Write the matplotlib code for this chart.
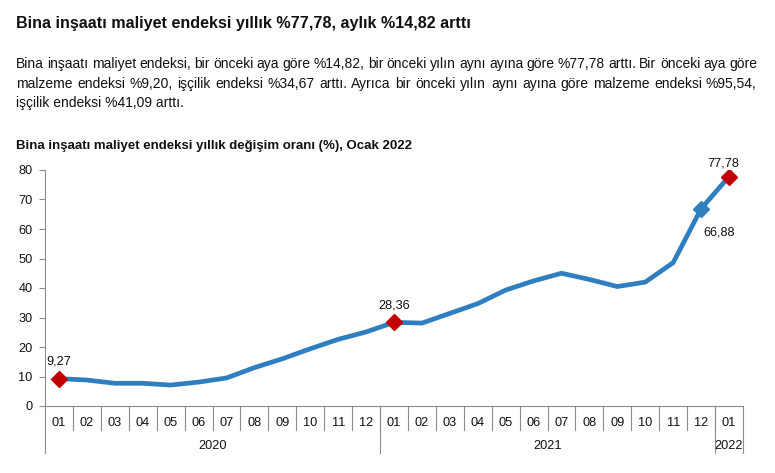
import matplotlib
matplotlib.use("Agg")
import matplotlib.pyplot as plt
import numpy as np

plt.rcParams['font.family'] = ['Liberation Sans', 'DejaVu Sans']

# data
months = ['01', '02', '03', '04', '05', '06', '07', '08', '09', '10', '11', '12',
          '01', '02', '03', '04', '05', '06', '07', '08', '09', '10', '11', '12',
          '01']
years = ['2020', '2021', '2022']
year_len = [12, 12, 1]
values = [9.27, 8.8, 7.7, 7.7, 7.1, 8.1, 9.5, 13.0, 16.0, 19.4, 22.6, 25.1,
          28.36, 28.1, 31.4, 34.7, 39.3, 42.4, 45.0, 42.9, 40.5, 42.0, 48.6, 66.88,
          77.78]
red_idx = [0, 12, 24]
blue_idx = [23]

title = "Bina inşaatı maliyet endeksi yıllık %77,78, aylık %14,82 arttı"
para = [
    "Bina inşaatı maliyet endeksi, bir önceki aya göre %14,82, bir önceki yılın aynı ayına göre %77,78 arttı. Bir önceki aya göre",
    "malzeme endeksi %9,20, işçilik endeksi %34,67 arttı. Ayrıca bir önceki yılın aynı ayına göre malzeme endeksi %95,54,",
    "işçilik endeksi %41,09 arttı.",
]
chart_title = "Bina inşaatı maliyet endeksi yıllık değişim oranı (%), Ocak 2022"

W, H = 775, 473
LINE = '#2F7EC0'
RED = '#C00000'
GRAY = '#8C8C8C'
TXT = '#111111'
LEFT = 16

fig = plt.figure(figsize=(W / 100, H / 100), dpi=100)


def fx(px):
    return px / W


def fy(py):
    return 1 - py / H


fig.text(fx(LEFT), fy(28), title, fontsize=11.6, fontweight='bold', color=TXT, va='baseline')

# justified paragraph (word by word, whole-pixel baselines to avoid jitter)
fig.canvas.draw()
renderer = fig.canvas.get_renderer()
baselines = [68, 88, 107]
for i, line in enumerate(para):
    if i == len(para) - 1:
        fig.text(fx(LEFT), fy(baselines[i]), line, fontsize=10, color=TXT, va='baseline')
        continue
    words = line.split(' ')
    objs = [fig.text(0, fy(baselines[i]), w, fontsize=10, color=TXT, va='baseline') for w in words]
    widths = [o.get_window_extent(renderer).width for o in objs]
    gap = (757 - LEFT - sum(widths)) / (len(words) - 1)
    x = LEFT
    for o, w in zip(objs, widths):
        o.set_x(fx(round(x)))
        x += w + gap

fig.text(fx(LEFT), fy(149), chart_title, fontsize=9.5, fontweight='bold', color=TXT, va='baseline')

ax = fig.add_axes([fx(45), fy(406), fx(743 - 45), (406 - 170) / H])
x = np.arange(len(values))
ax.plot(x, values, color=LINE, linewidth=3.4, solid_capstyle='round', zorder=2)
ax.plot(x[red_idx], np.array(values)[red_idx], 'D', color=RED, markersize=8, zorder=3)
ax.plot(x[blue_idx], np.array(values)[blue_idx], 'D', color=LINE, markersize=8, zorder=3)

for i in red_idx:
    dx, dy = (-4, 5) if i == red_idx[-1] else (0, 8)
    ax.annotate(f"{values[i]:.2f}".replace('.', ','), (x[i], values[i]),
                xytext=(dx, dy), textcoords='offset points', ha='center', va='bottom',
                fontsize=9.2, color=TXT)
for i in blue_idx:
    ax.annotate(f"{values[i]:.2f}".replace('.', ','), (x[i], values[i]),
                xytext=(13, -13), textcoords='offset points', ha='center', va='top',
                fontsize=9.2, color=TXT)

ax.set_xlim(-0.5, len(values) - 0.5)
ax.set_ylim(0, 80)
ax.set_yticks(range(0, 81, 10))
ax.tick_params(axis='y', length=4, color=GRAY, labelsize=9.2, labelcolor=TXT, pad=5)
ax.set_xticks([])
for s in ['top', 'right']:
    ax.spines[s].set_visible(False)
ax.spines['left'].set_color(GRAY)
ax.spines['bottom'].set_color(GRAY)

# category axis: months, separators, years
trans = ax.get_xaxis_transform()
ah = 406 - 170
for i, m in enumerate(months):
    ax.text(i, -17 / ah, m, transform=trans, ha='center', va='center', fontsize=9.2, color=TXT)
for b in np.arange(0.5, len(values) - 1, 1):
    ax.plot([b, b], [0, -24 / ah], transform=trans, color=GRAY, linewidth=0.8, clip_on=False)
start = -0.5
bounds = [start]
for y, n in zip(years, year_len):
    end = start + n
    ax.text((start + end) / 2, -40 / ah, y, transform=trans, ha='center', va='center',
            fontsize=9.2, color=TXT)
    bounds.append(end)
    start = end
for b in bounds:
    ax.plot([b, b], [0, -47 / ah], transform=trans, color=GRAY, linewidth=0.8, clip_on=False)

fig.savefig('out.png', dpi=100)
